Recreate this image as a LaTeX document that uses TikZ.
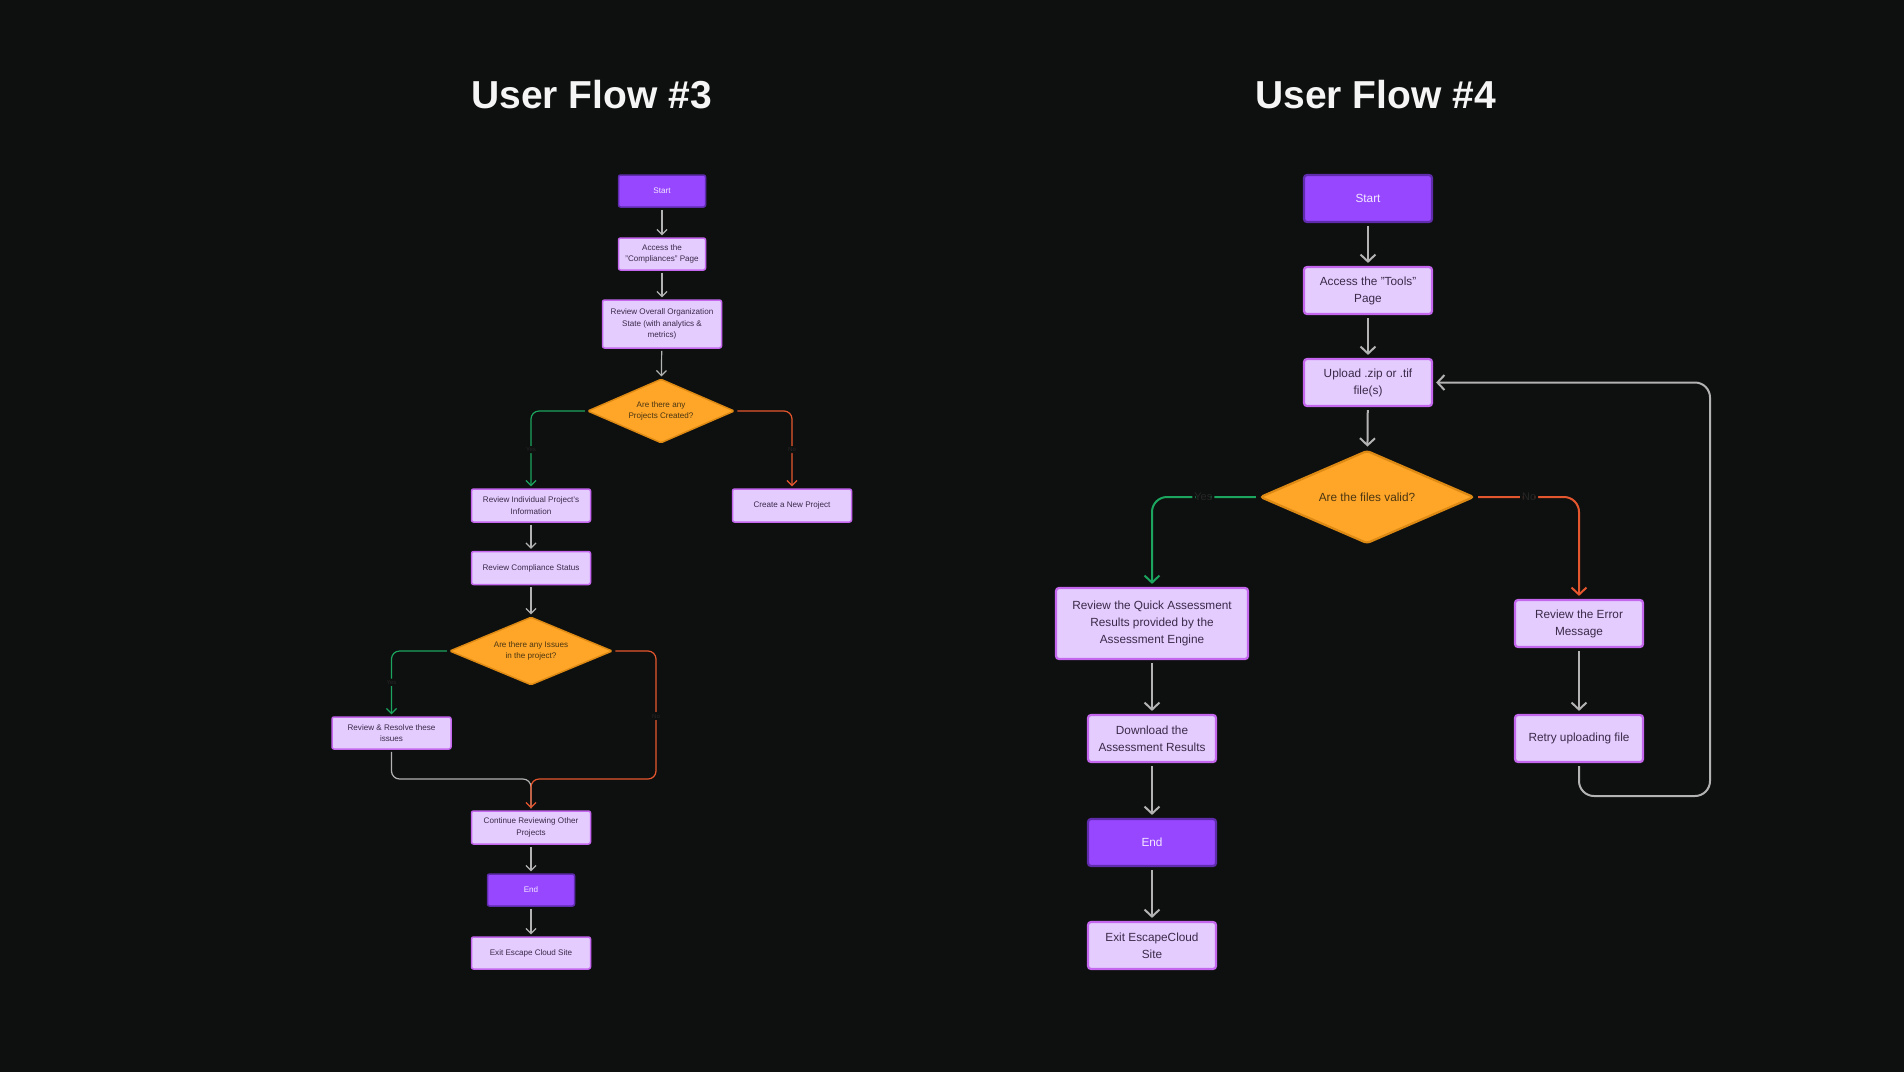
\documentclass[tikz,border=0pt]{standalone}
\usepackage{fontspec}
\setmainfont{Liberation Sans}
\usetikzlibrary{arrows.meta,shapes.geometric,calc}
\definecolor{bg}{HTML}{0E0F0F}
\definecolor{lfill}{HTML}{E4CCFF}
\definecolor{lborder}{HTML}{C466EE}
\definecolor{ltext}{HTML}{3A2A48}
\definecolor{pfill}{HTML}{9747FF}
\definecolor{pborder}{HTML}{5F2CAE}
\definecolor{ptext}{HTML}{F5E8FF}
\definecolor{ofill}{HTML}{FFA629}
\definecolor{oborder}{HTML}{DD8A14}
\definecolor{otext}{HTML}{4A3510}
\definecolor{lgray}{HTML}{B3B3B3}
\definecolor{grn}{HTML}{1BA55E}
\definecolor{redl}{HTML}{E4572E}
\definecolor{lbltext}{HTML}{262626}
\definecolor{titlec}{HTML}{F5F5F5}
\tikzset{
  title/.style={font=\fontsize{39}{44}\selectfont\bfseries, text=titlec, inner sep=0pt},
  lbox3/.style={rectangle, rounded corners=2pt, draw=lborder, fill=lfill, line width=1.5pt, text=ltext,
    font=\fontsize{8.1}{11.7}\selectfont, align=center, inner sep=0pt, minimum width=119pt, minimum height=33pt},
  dbox3/.style={lbox3, draw=pborder, fill=pfill, text=ptext, minimum width=87pt, minimum height=32pt},
  diam3/.style={diamond, shape aspect=2.3, draw=oborder, fill=ofill, line width=1.5pt, rounded corners=1.5pt,
    text=otext, font=\fontsize{8.1}{11.7}\selectfont, align=center, inner sep=0pt},
  con3/.style={draw=lgray, line width=1.2pt, -{Straight Barb[length=5pt,width=10pt]}, shorten >=2pt, shorten <=2pt, rounded corners=8pt},
  lbl3/.style={fill=bg, text=lbltext, font=\fontsize{6}{7}\selectfont, inner sep=1.5pt},
  lbox4/.style={rectangle, rounded corners=3pt, draw=lborder, fill=lfill, line width=2.2pt, text=ltext,
    font=\fontsize{11.8}{17}\selectfont, align=center, inner sep=0pt, minimum width=128pt, minimum height=47pt},
  dbox4/.style={lbox4, draw=pborder, fill=pfill, text=ptext},
  diam4/.style={diamond, shape aspect=2.3, draw=oborder, fill=ofill, line width=2.2pt, rounded corners=3pt,
    text=otext, font=\fontsize{11.8}{17}\selectfont, align=center, inner sep=0pt},
  con4/.style={draw=lgray, line width=2pt, -{Straight Barb[length=7pt,width=15pt]}, shorten >=3pt, shorten <=3pt, rounded corners=15pt},
  lbl4/.style={fill=bg, text=lbltext, font=\fontsize{11}{13}\selectfont, inner sep=2pt},
}
\begin{document}
\begin{tikzpicture}[x=1pt,y=-1pt]
\path[fill=bg] (0,0) rectangle (1904,1072);
\useasboundingbox (0,0) rectangle (1904,1072);

% Titles
\node[title, anchor=base] (t3) at (591.5,108) {User Flow \#3};
\node[title, anchor=base] (t4) at (1375.5,108) {User Flow \#4};

% ---------- Flow 3 ----------
\node[dbox3] (s3) at (662,191) {Start};
\node[lbox3, minimum width=87pt, minimum height=32pt] (a3) at (662,254) {Access the\\"Compliances" Page};
\node[lbox3, minimum height=48pt] (o3) at (662,324) {Review Overall Organization\\State (with analytics \&\\metrics)};
\node[diam3, minimum width=147pt, minimum height=64pt] (d3a) at (661,411) {Are there any\\Projects Created?};
\node[lbox3] (ri3) at (531,505.5) {Review Individual Project's\\Information};
\node[lbox3] (cp3) at (792,505.5) {Create a New Project};
\node[lbox3] (rc3) at (531,568) {Review Compliance Status};
\node[diam3, minimum width=163pt, minimum height=68pt] (d3b) at (531,651) {Are there any Issues\\in the project?};
\node[lbox3, minimum height=32pt] (rr3) at (391.5,733) {Review \& Resolve these\\issues};
\node[lbox3] (co3) at (531,827.5) {Continue Reviewing Other\\Projects};
\node[dbox3] (e3) at (531,890) {End};
\node[lbox3, minimum height=32pt] (x3) at (531,953) {Exit Escape Cloud Site};

\draw[con3] (s3) -- (a3);
\draw[con3] (a3) -- (o3);
\draw[con3] (o3) -- (d3a);
\draw[con3, draw=grn] (d3a.west) -| (ri3.north) node[lbl3, pos=0.75] (y3a) {Yes};
\draw[con3, draw=redl] (d3a.east) -| (cp3.north) node[lbl3, pos=0.75] (n3a) {No};
\draw[con3] (ri3) -- (rc3);
\draw[con3] (rc3) -- (d3b);
\draw[con3, draw=grn] (d3b.west) -| (rr3.north) node[lbl3, pos=0.74] (y3b) {Yes};
\coordinate (mj3) at (531,779);
\coordinate (rj3) at (656,779);
\draw[con3, -] (rr3.south) |- (mj3) -- (co3.north);
\draw[con3, draw=redl] (d3b.east) -| (rj3) -- (mj3) -- (co3.north);
\node[lbl3] (n3b) at (656,716) {No};
\draw[con3] (co3) -- (e3);
\draw[con3] (e3) -- (x3);

% ---------- Flow 4 ----------
\node[dbox4] (s4) at (1368,198.5) {Start};
\node[lbox4] (a4) at (1368,290.5) {Access the "Tools"\\Page};
\node[lbox4] (u4) at (1368,382.5) {Upload .zip or .tif\\file(s)};
\node[diam4, minimum width=214pt, minimum height=93pt] (d4) at (1367,497) {Are the files valid?};
\node[lbox4, minimum width=192pt, minimum height=71pt] (q4) at (1152,623.5) {Review the Quick Assessment\\Results provided by the\\Assessment Engine};
\node[lbox4] (er4) at (1579,623.5) {Review the Error\\Message};
\node[lbox4] (dl4) at (1152,738.5) {Download the\\Assessment Results};
\node[lbox4] (rt4) at (1579,738.5) {Retry uploading file};
\node[dbox4] (e4) at (1152,842.5) {End};
\node[lbox4] (x4) at (1152,945.5) {Exit EscapeCloud\\Site};

\draw[con4] (s4) -- (a4);
\draw[con4] (a4) -- (u4);
\draw[con4] (u4) -- (d4);
\draw[con4, draw=grn] (d4.west) -| (q4.north) node[lbl4, pos=0.26] (y4) {Yes};
\draw[con4, draw=redl] (d4.east) -| (er4.north) node[lbl4, pos=0.26] (n4) {No};
\draw[con4] (q4) -- (dl4);
\draw[con4] (dl4) -- (e4);
\draw[con4] (e4) -- (x4);
\draw[con4] (er4) -- (rt4);
\coordinate (lp4) at (1710,796);
\draw[con4] (rt4.south) |- (lp4) |- (u4.east);
\end{tikzpicture}
\end{document}
